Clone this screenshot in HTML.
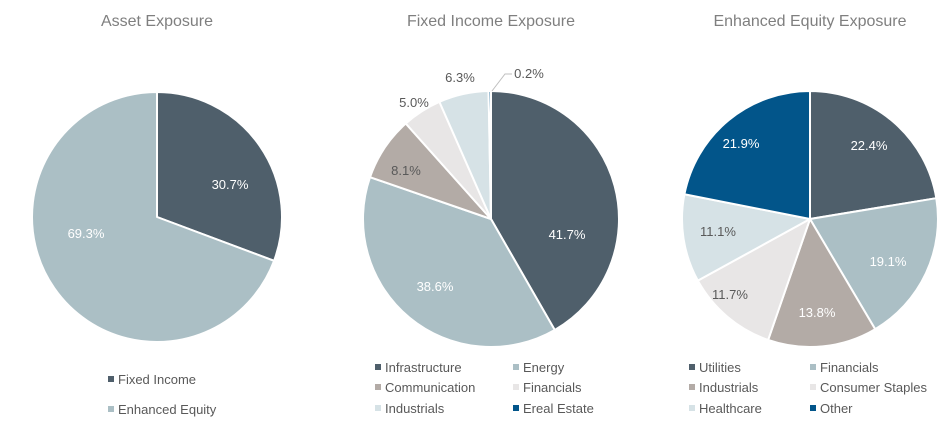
<!DOCTYPE html>
<html><head><meta charset="utf-8"><style>
body{margin:0;background:#fff;width:951px;height:431px;overflow:hidden;font-family:"Liberation Sans",sans-serif}
</style></head><body>
<svg id="s" width="951" height="431" xmlns="http://www.w3.org/2000/svg" font-family="Liberation Sans, sans-serif">
<g font-size="16" fill="#7f7f7f" text-anchor="middle">
<text x="157" y="26">Asset Exposure</text>
<text x="491" y="26">Fixed Income Exposure</text>
<text x="810" y="26">Enhanced Equity Exposure</text>
</g>
<g id="pies"></g>
<g font-size="13" fill="#fff" text-anchor="middle">
<text x="230" y="189">30.7%</text>
<text x="86" y="238">69.3%</text>
<text x="567" y="239">41.7%</text>
<text x="435" y="291">38.6%</text>
<text x="869" y="150">22.4%</text>
<text x="888" y="266">19.1%</text>
<text x="817" y="317">13.8%</text>
<text x="741" y="148">21.9%</text>
</g>
<g font-size="13" fill="#595959" text-anchor="middle">
<text x="406" y="175">8.1%</text>
<text x="414" y="107">5.0%</text>
<text x="460" y="82">6.3%</text>
<text x="529" y="78">0.2%</text>
<text x="730" y="299">11.7%</text>
<text x="718" y="236">11.1%</text>
</g>
<polyline points="492,91 505,74 512,74" fill="none" stroke="#bfbfbf" stroke-width="1"/>
<g font-size="13" fill="#595959" id="leg"></g>
</svg>
<script>
var C={dk:"#4f5f6b",lb:"#abbfc5",tp:"#b3aba6",lg:"#e8e6e6",vl:"#d6e2e6",nv:"#02558a"};
var pies=[
 {cx:157,cy:217,r:125,d:[[30.7,C.dk],[69.3,C.lb]]},
 {cx:491,cy:219,r:128,d:[[41.7,C.dk],[38.6,C.lb],[8.1,C.tp],[5.0,C.lg],[6.3,C.vl],[0.3,C.nv]]},
 {cx:810,cy:219,r:128,d:[[22.4,C.dk],[19.1,C.lb],[13.8,C.tp],[11.7,C.lg],[11.1,C.vl],[21.9,C.nv]]}];
var g=document.getElementById('pies'),h='';
pies.forEach(function(p){var tot=p.d.reduce(function(a,b){return a+b[0]},0),a=0;
p.d.forEach(function(s){var a0=a/tot*2*Math.PI;a+=s[0];var a1=a/tot*2*Math.PI;
var x0=p.cx+p.r*Math.sin(a0),y0=p.cy-p.r*Math.cos(a0),x1=p.cx+p.r*Math.sin(a1),y1=p.cy-p.r*Math.cos(a1);
h+='<path d="M'+p.cx+','+p.cy+' L'+x0+','+y0+' A'+p.r+','+p.r+' 0 '+((a1-a0)>Math.PI?1:0)+' 1 '+x1+','+y1+' Z" fill="'+s[1]+'" stroke="#fff" stroke-width="2" stroke-linejoin="round"/>';});});
g.innerHTML=h;
var L=[[108,380,C.dk,"Fixed Income"],[108,410,C.lb,"Enhanced Equity"],
[375,368,C.dk,"Infrastructure"],[513,368,C.lb,"Energy"],[375,388,C.tp,"Communication"],[513,388,C.lg,"Financials"],[375,409,C.vl,"Industrials"],[513,409,C.nv,"Ereal Estate"],
[689,368,C.dk,"Utilities"],[810,368,C.lb,"Financials"],[689,388,C.tp,"Industrials"],[810,388,C.lg,"Consumer Staples"],[689,409,C.vl,"Healthcare"],[810,409,C.nv,"Other"]];
var lh='';L.forEach(function(l){lh+='<rect x="'+l[0]+'" y="'+(l[1]-4)+'" width="6" height="6" fill="'+l[2]+'"/><text x="'+(l[0]+10)+'" y="'+(l[1]+4)+'">'+l[3]+'</text>';});
document.getElementById('leg').innerHTML=lh;
</script>
</body></html>
